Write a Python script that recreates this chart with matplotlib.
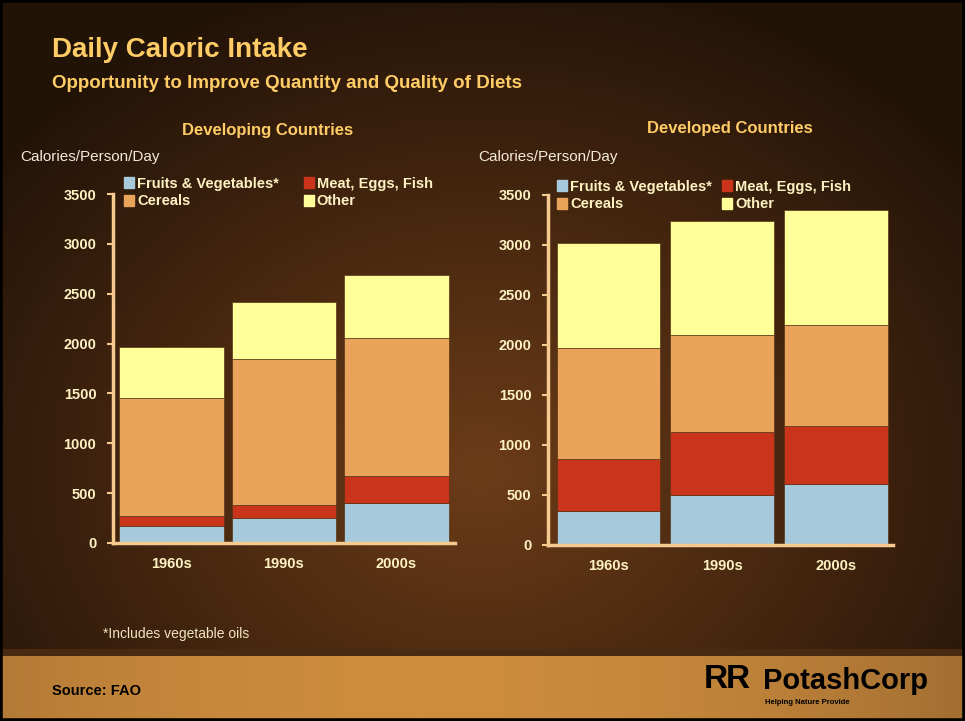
import numpy as np
import matplotlib
matplotlib.use('Agg')
import matplotlib.pyplot as plt
from matplotlib.patches import Patch, Rectangle

plt.rcParams['font.family'] = ['Liberation Sans', 'DejaVu Sans']

# data
decades_dev = ['1960s', '1990s', '2000s']
decades_ed = ['1960s', '1990s', '2000s']
series = ['Fruits & Vegetables*', 'Meat, Eggs, Fish', 'Cereals', 'Other']

# developing countries (stack tops)
dev_fruit = [170, 250, 400]
dev_meat = [100, 130, 270]
dev_cereal = [1180, 1470, 1390]
dev_other = [520, 570, 630]

# developed countries
ed_fruit = [340, 500, 610]
ed_meat = [520, 630, 580]
ed_cereal = [1110, 970, 1010]
ed_other = [1050, 1140, 1150]

yticks = [0, 500, 1000, 1500, 2000, 2500, 3000, 3500]

colors = ['#a6cadb', '#c9341a', '#e9a35b', '#ffff99']
gold = '#ffcc66'
cream = '#fff2c2'
spine_col = '#f6c98f'

W, H = 965, 721
fig = plt.figure(figsize=(W / 100, H / 100), dpi=100)

# background: brown slide with tan band at the bottom
bg = fig.add_axes([0, 0, 1, 1])
yy, xx = np.mgrid[0:H, 0:W]
d = np.sqrt(((xx - 480) / 560.0) ** 2 + ((yy - 470) / 460.0) ** 2)
shade = np.clip(1.0 - 0.62 * d, 0.32, 1.0)
img = np.zeros((H, W, 3))
top = np.array([108, 60, 24]) / 255.0
img[:] = top * shade[..., None]
band = yy >= 655
bshade = np.clip(1.0 - 0.35 * ((xx - 420) / 700.0) ** 2, 0.7, 1.0)
tan = np.array([205, 140, 62]) / 255.0
img[band] = (tan * bshade[..., None])[band]
edge = (yy >= 649) & (yy < 656)
img[edge] = np.array([72, 42, 18]) / 255.0
bg.imshow(img, aspect='auto', extent=[0, W, H, 0])
bg.set_xlim(0, W)
bg.set_ylim(H, 0)
bg.axis('off')
bg.add_patch(Rectangle((0, 0), W, H, fill=False, ec='black', lw=4))


def stacked(ax, labels, vals, xlim, width):
    x = np.arange(len(labels))
    bottom = np.zeros(len(labels))
    for v, c, name in zip(vals, colors, series):
        ax.bar(x, v, width, bottom=bottom, color=c, label=name,
               edgecolor='#5a3415', linewidth=0.5)
        bottom = bottom + np.array(v)
    ax.set_xlim(*xlim)
    ax.set_ylim(0, 3500)
    ax.set_yticks(yticks)
    ax.set_yticklabels([str(t) for t in yticks], fontsize=10.5,
                       fontweight='bold', color=cream)
    ax.set_xticks(x)
    ax.set_xticklabels(labels, fontsize=10.5, fontweight='bold', color=cream)
    ax.tick_params(axis='x', length=0, pad=10)
    ax.tick_params(axis='y', length=4, width=1.5, color=spine_col, pad=8)
    ax.patch.set_alpha(0)
    for s in ['top', 'right']:
        ax.spines[s].set_visible(False)
    for s in ['left', 'bottom']:
        ax.spines[s].set_color(spine_col)
        ax.spines[s].set_linewidth(2.5)


def legend(ax, x, y, gap):
    handles = [Patch(color=c) for c in colors]
    order = [0, 2, 1, 3]
    ax.legend([handles[i] for i in order], [series[i] for i in order],
              ncol=2, loc='upper left', bbox_to_anchor=(x, y),
              bbox_transform=fig.transFigure, frameon=False,
              prop={'weight': 'bold', 'size': 10.5}, labelcolor=cream,
              handlelength=0.7, handleheight=0.8, handletextpad=0.2,
              columnspacing=gap, labelspacing=0.25, borderaxespad=0)


ax1 = fig.add_axes([113 / W, 1 - 543 / H, 342 / W, 349 / H])
stacked(ax1, decades_dev, [dev_fruit, dev_meat, dev_cereal, dev_other],
        (-0.52, 2.52), 0.93)
legend(ax1, 118 / W, 1 - 171 / H, 1.7)

ax2 = fig.add_axes([548 / W, 1 - 545 / H, 345 / W, 350 / H])
stacked(ax2, decades_ed, [ed_fruit, ed_meat, ed_cereal, ed_other],
        (-0.53, 2.5), 0.91)
legend(ax2, 551 / W, 1 - 174 / H, 0.7)

# texts
fig.text(52 / W, 1 - 50 / H, 'Daily Caloric Intake', fontsize=20,
         fontweight='bold', color=gold, va='center')
fig.text(52 / W, 1 - 84 / H, 'Opportunity to Improve Quantity and Quality of Diets',
         fontsize=13.5, fontweight='bold', color=gold, va='center')
fig.text(268 / W, 1 - 131 / H, 'Developing Countries', fontsize=12,
         fontweight='bold', color=gold, ha='center', va='center')
fig.text(730 / W, 1 - 128 / H, 'Developed Countries', fontsize=12,
         fontweight='bold', color=gold, ha='center', va='center')
fig.text(20 / W, 1 - 157 / H, 'Calories/Person/Day', fontsize=11,
         color='#f3ead8', va='center')
fig.text(478 / W, 1 - 157 / H, 'Calories/Person/Day', fontsize=11,
         color='#f3ead8', va='center')
fig.text(103 / W, 1 - 634 / H, '*Includes vegetable oils', fontsize=10,
         color='#f3e4c0', va='center')
fig.text(52 / W, 1 - 691 / H, 'Source: FAO', fontsize=10.5,
         fontweight='bold', color='black', va='center')

# logo
fig.text(763 / W, 1 - 681 / H, 'PotashCorp', fontsize=21, fontweight='bold',
         color='black', va='center')
fig.text(765 / W, 1 - 703 / H, 'Helping Nature Provide', fontsize=5.5,
         fontweight='bold', color='black', va='center')
fig.text(704 / W, 1 - 679 / H, 'R', fontsize=24, fontweight='bold',
         color='black', va='center')
fig.text(726 / W, 1 - 679 / H, 'R', fontsize=24, fontweight='bold',
         color='black', va='center')

fig.savefig('out.png', dpi=100)
